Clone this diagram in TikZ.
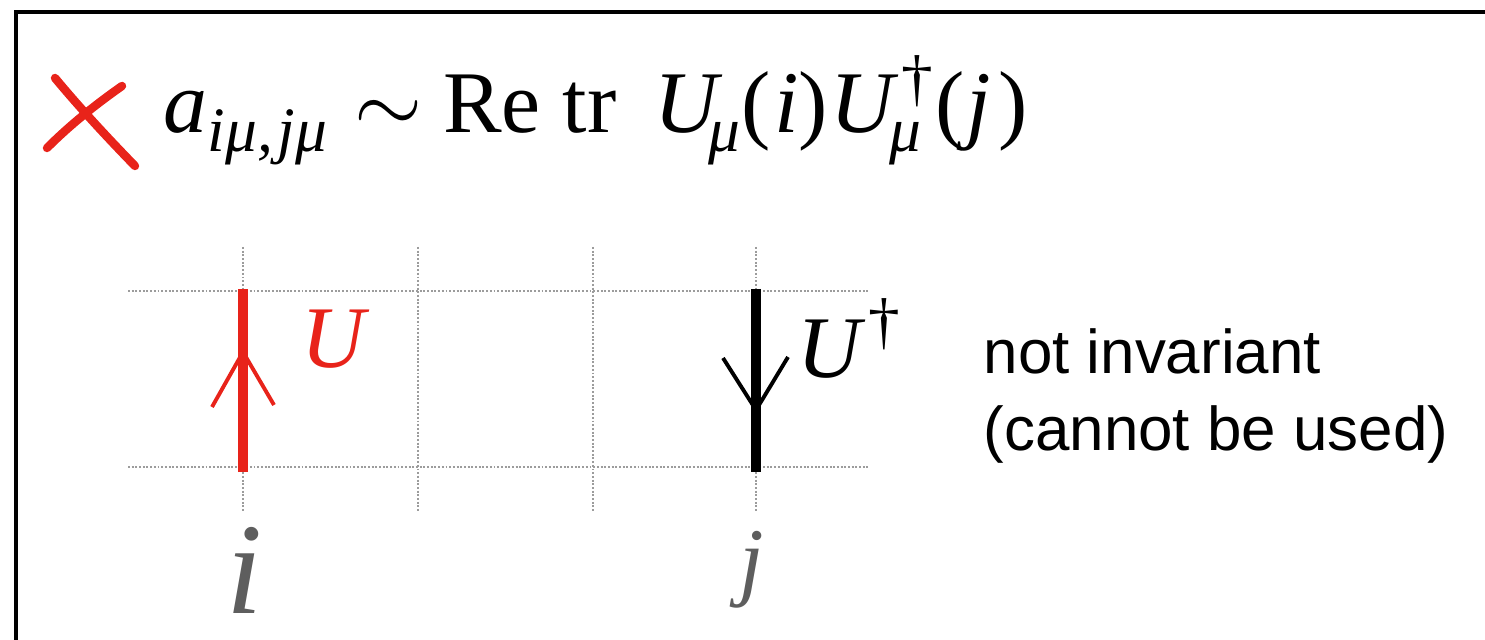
\documentclass[tikz,border=0pt]{standalone}
\usepackage{fontspec}
\setmainfont{Liberation Serif}
\newfontfamily\sansf{Liberation Sans}
\definecolor{xred}{HTML}{E8231A}
\definecolor{gridgray}{HTML}{9C9C9C}
\definecolor{lblgray}{HTML}{5E5E5E}
\newcommand\mainsz{\fontsize{25pt}{30pt}\selectfont}
\newcommand\subsz{\fontsize{18pt}{20pt}\selectfont}
\newcommand\dagsz{\fontsize{18pt}{20pt}\selectfont}
\newcommand\lowr[1]{\raisebox{-0.18cm}{\subsz\itshape #1}}
\newcommand\dagup{\raisebox{0.33cm}{\dagsz\upshape †}}
\tikzset{
  frameline/.style={line width=1.4pt, black},
  gridline/.style={gridgray, line width=0.55pt, dash pattern=on 0.55pt off 0.5pt},
  redlink/.style={xred, line width=2.85pt},
  blacklink/.style={black, line width=3pt},
  redhead/.style={xred, line width=1.1pt},
  blackhead/.style={black, line width=1.1pt},
  crossline/.style={xred, line width=2.4pt, line cap=round},
  sitelbl/.style={lblgray, inner sep=0, anchor=base},
  ulbl/.style={inner sep=0, anchor=base west, font=\mainsz\itshape},
  note/.style={inner sep=0, anchor=base west, font=\sansf\fontsize{17.6pt}{21pt}\selectfont},
}
\begin{document}
\begin{tikzpicture}[x=0.01cm, y=-0.01cm]
\useasboundingbox (0,0) rectangle (1485,640);
% frame
\draw[frameline] (16,645) -- (16,12) -- (1490,12);
% red cross
\draw[crossline] (55,78) .. controls (80,108) and (105,135) .. (135,166);
\draw[crossline] (122,86) .. controls (95,105) and (70,125) .. (47,148);
% formula
\node[inner sep=0, anchor=base west, font=\mainsz] (formula) at (163,133)
 {\itshape a\lowr{iμ,\hspace{0.05cm}jμ}\upshape\hspace{0.27cm}$\sim$\hspace{0.21cm}Re tr\hspace{0.38cm}{\itshape U}\hspace{-0.10cm}\lowr{μ}\hspace{0.02cm}(\hspace{0.03cm}{\itshape i}){\hspace{0.03cm}\itshape U}\hspace{-0.05cm}\rlap{\hspace{0.12cm}\dagup}\lowr{μ}\hspace{0.14cm}(\hspace{0.02cm}{\itshape j}\hspace{0.08cm})};
% grid
\foreach \x in {243,418,593,756} \draw[gridline] (\x,247) -- (\x,512);
\foreach \y in {291,467} \draw[gridline] (128,\y) -- (868,\y);
% links
\coordinate (ib) at (243,472);
\coordinate (it) at (243,289);
\coordinate (jb) at (756,472);
\coordinate (jt) at (756,289);
\draw[redlink] (ib) -- (it);
\draw[blacklink] (jt) -- (jb);
\coordinate (ra) at (243,352);
\draw[redhead] (212,407) -- (ra) -- (274,405);
\coordinate (ba) at (756,410);
\draw[blackhead] (723,358) -- (ba) -- (788,357);
% labels
\node[ulbl, xred] (U1) at (301,367) {U};
\node[ulbl] (U2) at (797,377) {U\hspace{0.07cm}\raisebox{0.34cm}{\dagsz\upshape †}};
\node[sitelbl, font=\fontsize{37pt}{40pt}\selectfont\itshape] (li) at (245,613) {i};
\node[sitelbl, font=\mainsz\itshape] (lj) at (752,589) {j};
\node[note] (n1) at (983,374) {not invariant};
\node[note] (n2) at (983,450) {(cannot be used)};
\end{tikzpicture}
\end{document}
